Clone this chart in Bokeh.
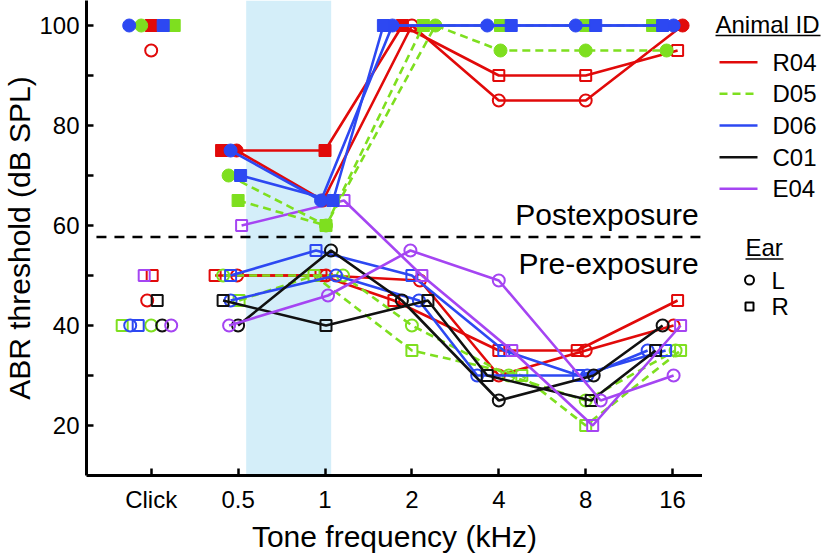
from bokeh.plotting import figure
from bokeh.layouts import row
from bokeh.models import FixedTicker, Range1d, BoxAnnotation
from bokeh.embed import file_html
from bokeh.resources import INLINE
from bokeh.core.properties import value

FONT = "Liberation Sans"

# ---------------- data ----------------
categories = ["Click", "0.5", "1", "2", "4", "8", "16"]
animals = ["R04", "D05", "D06", "C01", "E04"]

# pre-exposure thresholds (dB SPL)
pre_R04_L = [45, 50, 50, 49, 30, 35, 40]
pre_R04_R = [50, 50, 50, 45, 35, 35, 45]
pre_D05_L = [40, 50, 50, 40, 30, 25, 35]
pre_D05_R = [40, 45, 50, 35, 30, 20, 35]
pre_D06_L = [40, 45, 50, 45, 30, 30, 35]
pre_D06_R = [40, 50, 55, 50, 35, 30, 35]
pre_C01_L = [40, 40, 55, 45, 25, 30, 40]
pre_C01_R = [45, 45, 40, 45, 30, 25, 35]
pre_E04_L = [40, 40, 46, 55, 49, 25, 30]
pre_E04_R = [50, 60, 65, 50, 35, 20, 40]

# post-exposure thresholds (dB SPL)
post_R04_L = [95, 75, 65, 100, 85, 85, 100]
post_R04_R = [100, 75, 75, 100, 90, 90, 95]
post_D05_L = [100, 70, 60, 100, 95, 95, 95]
post_D05_R = [100, 65, 60, 100, 100, 100, 100]
post_D06_L = [100, 75, 65, 100, 100, 100, 100]
post_D06_R = [100, 70, 65, 100, 100, 100, 100]

# marker filled (1) or open (0)
post_R04_L_fill = [0, 1, 1, 0, 0, 0, 1]
post_R04_R_fill = [1, 1, 1, 1, 0, 0, 0]
all_filled = [1, 1, 1, 1, 1, 1, 1]
all_open = [0, 0, 0, 0, 0, 0, 0]

# horizontal jitter of each point, in pixels
PX_PER_CAT = 86.9
jit = {
    ("pre", "R04", "L"): [-4, -1, 1, 8, 0, 0, 1],
    ("pre", "R04", "R"): [1, -23, -4, -18, 0, -8.5, 5],
    ("pre", "D05", "L"): [0, -15, 18, 0, 10, 0, 3],
    ("pre", "D05", "R"): [-29, 1, -11, 0, 23, 0, 8],
    ("pre", "D06", "L"): [-21, -7.5, 11, 7, -21.6, 1.5, -25],
    ("pre", "D06", "R"): [-13, -7.5, -9, 0, 5, -7, -7],
    ("pre", "C01", "L"): [11, 0, 6, -10, 0, 8, -10],
    ("pre", "C01", "R"): [6, -15, 1, 16, -11.6, 5.5, -17],
    ("pre", "E04", "L"): [20, -9, 3, -1.5, 0, 15, 1],
    ("pre", "E04", "R"): [-7, 3.5, 19, 10, 13, 7, 8],
    ("post", "R04", "L"): [0, -1.5, -2, 0, 0, 0, 10],
    ("post", "R04", "R"): [0, -16.5, 0, -9.5, 0, 0, 5],
    ("post", "D05", "L"): [-10, -9.5, 1, 23.5, 1.7, 0, -6],
    ("post", "D05", "R"): [23, 0, 1, 11.5, 1.7, 0, -20],
    ("post", "D06", "L"): [-22, -7.5, -4, -19.5, -11.6, -10, 1],
    ("post", "D06", "R"): [12, 2.5, 8, -28.5, 12.4, 10, -10],
}

series = [
    ("pre", "R04", "L", pre_R04_L, all_open),
    ("pre", "R04", "R", pre_R04_R, all_open),
    ("pre", "D05", "L", pre_D05_L, all_open),
    ("pre", "D05", "R", pre_D05_R, all_open),
    ("pre", "D06", "L", pre_D06_L, all_open),
    ("pre", "D06", "R", pre_D06_R, all_open),
    ("pre", "C01", "L", pre_C01_L, all_open),
    ("pre", "C01", "R", pre_C01_R, all_open),
    ("pre", "E04", "L", pre_E04_L, all_open),
    ("pre", "E04", "R", pre_E04_R, all_open),
    ("post", "R04", "L", post_R04_L, post_R04_L_fill),
    ("post", "R04", "R", post_R04_R, post_R04_R_fill),
    ("post", "D05", "L", post_D05_L, all_filled),
    ("post", "D05", "R", post_D05_R, all_filled),
    ("post", "D06", "L", post_D06_L, all_filled),
    ("post", "D06", "R", post_D06_R, all_filled),
]

# ---------------- styles ----------------
colors = {"R04": "#E10A0A", "D05": "#7EDF1F", "D06": "#2D48F2", "C01": "#111111", "E04": "#A545F2"}
dashes = {"R04": "solid", "D05": "8 5", "D06": "solid", "C01": "solid", "E04": "solid"}
markers = {"L": "circle", "R": "square"}
msize = {"L": 12, "R": 11}
LW = 2.6

band_left, band_right = 1.093, 2.071
sep_level = 57.7

H = 557
FRAME_H = 475
p = figure(width=702, height=H, x_range=Range1d(-0.7445, 6.344), y_range=Range1d(10, 105),
           output_backend="svg", toolbar_location=None,
           min_border_left=86, min_border_right=0, min_border_top=0, min_border_bottom=H - FRAME_H)
p.outline_line_color = None
p.grid.visible = False
p.background_fill_color = "white"

p.add_layout(BoxAnnotation(left=band_left, right=band_right, fill_color="#D4EEF9", fill_alpha=1.0,
                           line_color=None, level="underlay"))

p.segment(x0=[-0.63], y0=[sep_level], x1=[6.32], y1=[sep_level], line_color="black",
          line_width=2.6, line_dash="10 8")

for phase, animal, ear, vals, fills in series:
    off = jit[(phase, animal, ear)]
    xs = [i + o / PX_PER_CAT for i, o in enumerate(off)]
    c = colors[animal]
    p.line(xs[1:], vals[1:], line_color=c, line_width=LW, line_dash=dashes[animal])
    fx = [x for x, f in zip(xs, fills) if f]
    fy = [v for v, f in zip(vals, fills) if f]
    ox = [x for x, f in zip(xs, fills) if not f]
    oy = [v for v, f in zip(vals, fills) if not f]
    if fx:
        p.scatter(fx, fy, marker=markers[ear], size=msize[ear] + 1, fill_color=c, line_color=c, line_width=1)
    if ox:
        p.scatter(ox, oy, marker=markers[ear], size=msize[ear], fill_color=None, line_color=c, line_width=2)

p.text(x=[6.30], y=[62.3], text=["Postexposure"], text_align="right", text_baseline="middle",
       text_font=value(FONT), text_font_size="30px", text_color="black")
p.text(x=[6.30], y=[52.5], text=["Pre-exposure"], text_align="right", text_baseline="middle",
       text_font=value(FONT), text_font_size="30px", text_color="black")

# axes
p.xaxis.ticker = FixedTicker(ticks=list(range(len(categories))))
p.xaxis.major_label_overrides = {i: c for i, c in enumerate(categories)}
p.yaxis.ticker = FixedTicker(ticks=[20, 40, 60, 80, 100], minor_ticks=[30, 50, 70, 90])
for ax in (p.xaxis, p.yaxis):
    ax.axis_line_width = 3
    ax.axis_line_color = "black"
    ax.major_tick_in = 7
    ax.major_tick_out = 0
    ax.major_tick_line_width = 2.5
    ax.minor_tick_in = 7
    ax.minor_tick_out = 0
    ax.minor_tick_line_width = 2.5
    ax.major_label_text_font = FONT
    ax.major_label_text_font_size = "24px"
    ax.major_label_text_color = "black"
    ax.axis_label_text_font = FONT
    ax.axis_label_text_font_size = "30px"
    ax.axis_label_text_font_style = "normal"
    ax.axis_label_text_color = "black"
p.xaxis.minor_tick_line_color = None
p.xaxis.axis_label = "Tone frequency (kHz)"
p.yaxis.axis_label = "ABR threshold (dB SPL)"
p.xaxis.major_label_standoff = 10
p.yaxis.major_label_standoff = 7
p.xaxis.axis_label_standoff = 4
p.yaxis.axis_label_standoff = 0

# ---------------- legend panel (coordinates in page pixels) ----------------
lg = figure(width=120, height=H, x_range=Range1d(702, 822), y_range=Range1d(FRAME_H, 0),
            output_backend="svg", toolbar_location=None, x_axis_location=None, y_axis_location=None,
            min_border_left=0, min_border_right=0, min_border_top=0, min_border_bottom=H - FRAME_H)
lg.outline_line_color = None
lg.grid.visible = False

lg.text(x=[715], y=[24], text=["Animal ID"], text_font=value(FONT), text_font_size="24px",
        text_baseline="middle", text_align="left", text_color="black")
lg.segment(x0=[715], y0=[35], x1=[820], y1=[35], line_color="black", line_width=1.6)
row_y = [61.7, 93.3, 125.0, 156.7, 188.3]
for a, yy in zip(animals, row_y):
    lg.segment(x0=[719], y0=[yy], x1=[757], y1=[yy], line_color=colors[a], line_width=LW,
               line_dash=dashes[a])
    lg.text(x=[772], y=[yy], text=[a], text_font=value(FONT), text_font_size="24px",
            text_baseline="middle", text_align="left", text_color="black")

lg.text(x=[745], y=[246.5], text=["Ear"], text_font=value(FONT), text_font_size="24px",
        text_baseline="middle", text_align="left", text_color="black")
lg.segment(x0=[745], y0=[258.5], x1=[783], y1=[258.5], line_color="black", line_width=1.6)
ear_y = [279.5, 306.0]
for e, yy in zip(["L", "R"], ear_y):
    lg.scatter([749], [yy], marker=markers[e], size=9 if e == "L" else 8, fill_color=None,
               line_color="black", line_width=2)
    lg.text(x=[771], y=[yy], text=[e], text_font=value(FONT), text_font_size="24px",
            text_baseline="middle", text_align="left", text_color="black")

layout = row(p, lg)
open("out.html", "w").write(file_html(layout, INLINE))
